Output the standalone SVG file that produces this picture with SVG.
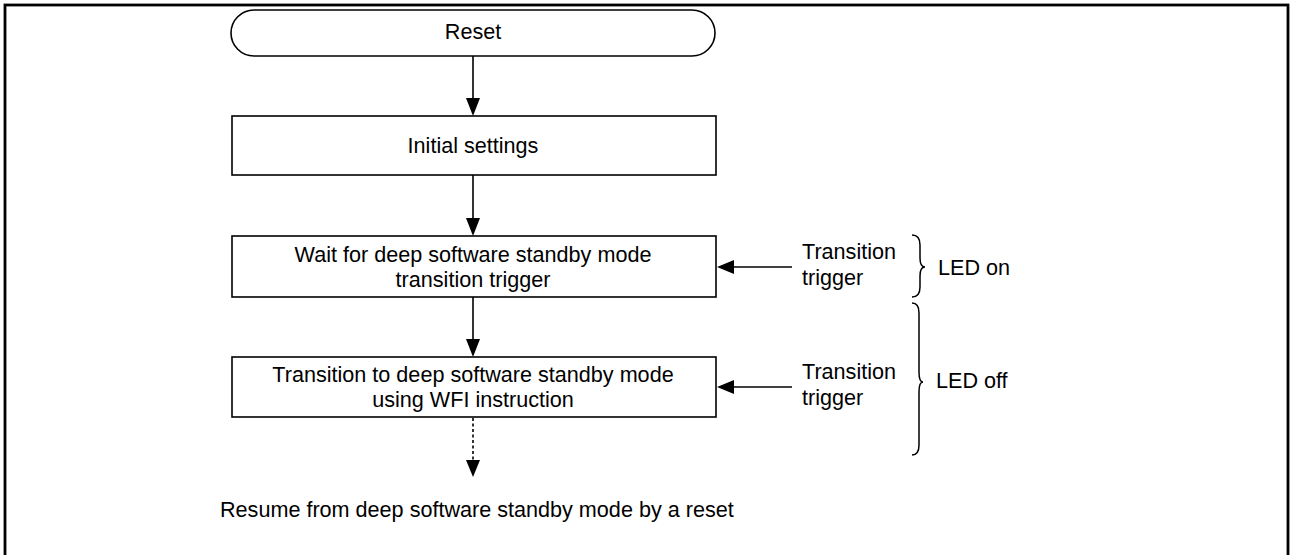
<svg xmlns="http://www.w3.org/2000/svg" width="1290" height="555" viewBox="0 0 1290 555">
  <style>
    .box { fill: #fff; stroke: #000; stroke-width: 1.6; }
    .frame { fill: none; stroke: #000; stroke-width: 2.8; }
    .line { fill: none; stroke: #000; stroke-width: 1.6; }
    .dash { fill: none; stroke: #000; stroke-width: 1.6; stroke-dasharray: 3 2.5; }
    .brace { fill: none; stroke: #000; stroke-width: 1.5; }
    .head { fill: #000; stroke: none; }
    text { font-family: "Liberation Sans", Arial, sans-serif; font-size: 21.6px; fill: #000; }
    .c { text-anchor: middle; }
  </style>
  <rect width="1290" height="555" fill="#fff"/>

  <!-- outer frame, open at the bottom edge -->
  <rect class="frame" x="5" y="5" width="1283" height="560"/>

  <g id="reset">
    <rect class="box" x="231" y="10" width="484" height="46" rx="23" ry="23"/>
    <text class="c" x="473" y="39">Reset</text>
  </g>

  <g id="initial-settings">
    <rect class="box" x="232" y="116" width="484" height="59"/>
    <text class="c" x="473" y="153">Initial settings</text>
  </g>

  <g id="wait-trigger">
    <rect class="box" x="232" y="236" width="484" height="61"/>
    <text class="c" x="473" y="262">Wait for deep software standby mode</text>
    <text class="c" x="473" y="287">transition trigger</text>
  </g>

  <g id="enter-standby">
    <rect class="box" x="232" y="357" width="484" height="60"/>
    <text class="c" x="473" y="382">Transition to deep software standby mode</text>
    <text class="c" x="473" y="407">using WFI instruction</text>
  </g>

  <g id="resume">
    <text x="220" y="517">Resume from deep software standby mode by a reset</text>
  </g>

  <g id="trigger-1">
    <text x="802" y="259">Transition</text>
    <text x="802" y="285">trigger</text>
  </g>

  <g id="trigger-2">
    <text x="802" y="379">Transition</text>
    <text x="802" y="405">trigger</text>
  </g>

  <g id="led-on">
    <path class="brace" d="M912,235 Q920,235 920,245 L920,258 Q920,267 925,267 Q920,267 920,276 L920,287 Q920,297 912,297"/>
    <text x="938" y="275">LED on</text>
  </g>

  <g id="led-off">
    <path class="brace" d="M912,303 Q919,303 919,313 L919,372 Q919,382 923,382 Q919,382 919,392 L919,445 Q919,455 912,455"/>
    <text x="936" y="388">LED off</text>
  </g>

  <g id="connectors">
    <!-- Reset to Initial settings -->
    <line class="line" x1="473" y1="56" x2="473" y2="100"/>
    <polygon class="head" points="466,98 480,98 473,116"/>
    <!-- Initial settings to Wait -->
    <line class="line" x1="473" y1="175" x2="473" y2="220"/>
    <polygon class="head" points="466,218 480,218 473,236"/>
    <!-- Wait to Transition -->
    <line class="line" x1="473" y1="297" x2="473" y2="341"/>
    <polygon class="head" points="466,339 480,339 473,357"/>
    <!-- Transition to resume (dotted) -->
    <line class="dash" x1="473" y1="418" x2="473" y2="461"/>
    <polygon class="head" points="466,460 480,460 473,477"/>
    <!-- triggers -->
    <line class="line" x1="792" y1="267" x2="732" y2="267"/>
    <polygon class="head" points="734,260 734,274 717,267"/>
    <line class="line" x1="792" y1="387" x2="732" y2="387"/>
    <polygon class="head" points="734,380 734,394 717,387"/>
  </g>
</svg>
